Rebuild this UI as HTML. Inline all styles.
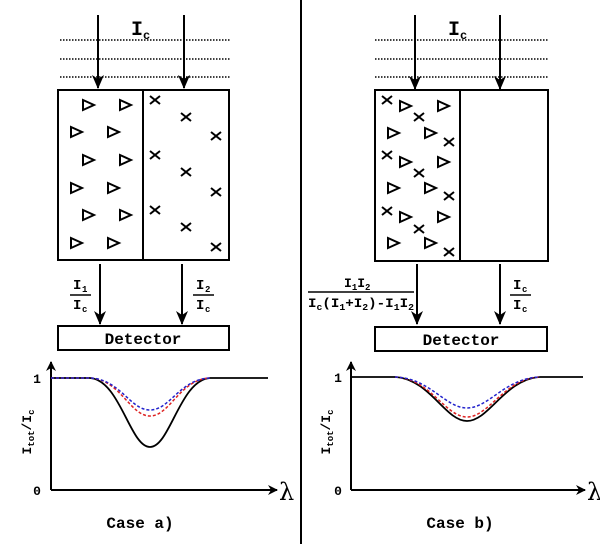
<!DOCTYPE html>
<html><head><style>body{margin:0;background:#fff}svg{display:block}</style></head><body>
<svg width="600" height="544" viewBox="0 0 600 544" xmlns="http://www.w3.org/2000/svg" font-family="Liberation Mono, monospace" font-weight="bold">
<defs>
<marker id="ah" markerWidth="10" markerHeight="10" refX="9" refY="5" orient="auto" markerUnits="userSpaceOnUse"><path d="M0,0 L10,5 L0,10 L3,5 z" fill="#000"/></marker>
<marker id="ah2" markerWidth="14" markerHeight="12" refX="13" refY="6" orient="auto" markerUnits="userSpaceOnUse"><path d="M0,0 L14,6 L0,12 L4,6 z" fill="#000"/></marker>
<g id="t"><path d="M-5,-5 L6,0 L-5,5 z" fill="none" stroke="#000" stroke-width="2"/></g>
<g id="x"><path d="M-5,-4 L5,4 M-5,4 L5,-4" stroke="#000" stroke-width="2"/></g>
</defs>
<line x1="301" y1="0" x2="301" y2="544" stroke="#000" stroke-width="2"/>
<!-- LEFT -->
<g stroke="#000" stroke-width="1.5" stroke-dasharray="1.5,1.5"><line x1="60" y1="40" x2="230" y2="40"/><line x1="60" y1="59" x2="230" y2="59"/><line x1="60" y1="77" x2="230" y2="77"/></g>
<text x="131" y="35" font-size="20">I</text><text x="143" y="39" font-size="12">c</text>
<g stroke="#000" stroke-width="2" marker-end="url(#ah2)"><line x1="98" y1="15" x2="98" y2="88"/><line x1="184" y1="15" x2="184" y2="88"/>
<line x1="100" y1="264" x2="100" y2="324"/><line x1="182" y1="264" x2="182" y2="324"/></g>
<rect x="58" y="90" width="171" height="170" fill="none" stroke="#000" stroke-width="2"/>
<line x1="143" y1="90" x2="143" y2="260" stroke="#000" stroke-width="2"/>
<use href="#t" x="88" y="105"/><use href="#t" x="125" y="105"/><use href="#t" x="76" y="132"/><use href="#t" x="113" y="132"/><use href="#t" x="88" y="160"/><use href="#t" x="125" y="160"/><use href="#t" x="76" y="188"/><use href="#t" x="113" y="188"/><use href="#t" x="88" y="215"/><use href="#t" x="125" y="215"/><use href="#t" x="76" y="243"/><use href="#t" x="113" y="243"/>
<use href="#x" x="155" y="100"/><use href="#x" x="186" y="117"/><use href="#x" x="216" y="136"/><use href="#x" x="155" y="155"/><use href="#x" x="186" y="172"/><use href="#x" x="216" y="192"/><use href="#x" x="155" y="210"/><use href="#x" x="186" y="227"/><use href="#x" x="216" y="247"/>
<g font-size="14"><text x="73" y="289">I</text><text x="82" y="292" font-size="9">1</text><line x1="70" y1="295" x2="91" y2="295" stroke="#000" stroke-width="1.5"/><text x="73" y="309">I</text><text x="82" y="312" font-size="9">c</text>
<text x="196" y="289">I</text><text x="205" y="292" font-size="9">2</text><line x1="193" y1="295" x2="214" y2="295" stroke="#000" stroke-width="1.5"/><text x="196" y="309">I</text><text x="205" y="312" font-size="9">c</text></g>
<rect x="58" y="326" width="171" height="24" fill="none" stroke="#000" stroke-width="2"/>
<text x="143" y="344" font-size="16" text-anchor="middle">Detector</text>
<g stroke="#000" stroke-width="2"><line x1="51" y1="490" x2="51" y2="362" marker-end="url(#ah)"/><line x1="51" y1="490" x2="277" y2="490" marker-end="url(#ah)"/></g>
<path d="M51,378 L90,378 C120,380 130,447 150,447 C170,447 180,380 210,378 L268,378" fill="none" stroke="#000" stroke-width="1.8"/>
<path d="M51,378 L90,378 C120,379 130,416 150,416 C170,416 180,379 210,378" fill="none" stroke="#d22" stroke-width="1.5" stroke-dasharray="3,2"/>
<path d="M51,378 L90,378 C120,379 130,410 150,410 C170,410 180,379 210,378" fill="none" stroke="#22c" stroke-width="1.5" stroke-dasharray="3,2"/>
<text x="37" y="383" font-size="13" text-anchor="middle">1</text><text x="37" y="495" font-size="13" text-anchor="middle">0</text>
<text transform="translate(31,432) rotate(-90)" font-size="13" text-anchor="middle">I<tspan font-size="9" dy="3">tot</tspan><tspan dy="-3">/I</tspan><tspan font-size="9" dy="3">c</tspan></text>
<text x="279" y="500" font-size="24" font-family="DejaVu Serif, serif" font-weight="normal">λ</text>
<text x="140" y="528" font-size="16" text-anchor="middle">Case a)</text>
<!-- RIGHT -->
<g stroke="#000" stroke-width="1.5" stroke-dasharray="1.5,1.5"><line x1="375" y1="40" x2="548" y2="40"/><line x1="375" y1="59" x2="548" y2="59"/><line x1="375" y1="77" x2="548" y2="77"/></g>
<text x="448" y="35" font-size="20">I</text><text x="460" y="39" font-size="12">c</text>
<g stroke="#000" stroke-width="2" marker-end="url(#ah2)"><line x1="415" y1="15" x2="415" y2="89"/><line x1="500" y1="15" x2="500" y2="89"/>
<line x1="417" y1="264" x2="417" y2="324"/><line x1="500" y1="264" x2="500" y2="324"/></g>
<rect x="375" y="90" width="173" height="171" fill="none" stroke="#000" stroke-width="2"/>
<line x1="460" y1="90" x2="460" y2="261" stroke="#000" stroke-width="2"/>
<use href="#t" x="405" y="106"/><use href="#t" x="443" y="106"/><use href="#t" x="393" y="133"/><use href="#t" x="430" y="133"/><use href="#t" x="405" y="162"/><use href="#t" x="443" y="162"/><use href="#t" x="393" y="188"/><use href="#t" x="430" y="188"/><use href="#t" x="405" y="217"/><use href="#t" x="443" y="217"/><use href="#t" x="393" y="243"/><use href="#t" x="430" y="243"/>
<use href="#x" x="387" y="100"/><use href="#x" x="419" y="117"/><use href="#x" x="449" y="142"/><use href="#x" x="387" y="155"/><use href="#x" x="419" y="173"/><use href="#x" x="449" y="196"/><use href="#x" x="387" y="211"/><use href="#x" x="419" y="229"/><use href="#x" x="449" y="252"/>
<g font-size="13"><text x="344" y="287">I<tspan font-size="9" dy="3">1</tspan><tspan dy="-3">I</tspan><tspan font-size="9" dy="3">2</tspan></text>
<line x1="308" y1="292" x2="414" y2="292" stroke="#000" stroke-width="1.5"/>
<text x="308" y="307" textLength="106" lengthAdjust="spacingAndGlyphs">I<tspan font-size="9" dy="3">c</tspan><tspan dy="-3">(I</tspan><tspan font-size="9" dy="3">1</tspan><tspan dy="-3">+I</tspan><tspan font-size="9" dy="3">2</tspan><tspan dy="-3">)-I</tspan><tspan font-size="9" dy="3">1</tspan><tspan dy="-3">I</tspan><tspan font-size="9" dy="3">2</tspan></text>
<text x="513" y="289" font-size="14">I</text><text x="522" y="292" font-size="9">c</text><line x1="510" y1="295" x2="531" y2="295" stroke="#000" stroke-width="1.5"/><text x="513" y="309" font-size="14">I</text><text x="522" y="312" font-size="9">c</text></g>
<rect x="375" y="327" width="172" height="24" fill="none" stroke="#000" stroke-width="2"/>
<text x="461" y="345" font-size="16" text-anchor="middle">Detector</text>
<g stroke="#000" stroke-width="2"><line x1="351" y1="490" x2="351" y2="362" marker-end="url(#ah)"/><line x1="351" y1="490" x2="585" y2="490" marker-end="url(#ah)"/></g>
<path d="M351,377 L395,377 C430,379 445,421 467,421 C489,421 505,379 540,377 L583,377" fill="none" stroke="#000" stroke-width="1.8"/>
<path d="M395,377 C430,378 445,417 467,417 C489,417 505,378 540,377" fill="none" stroke="#d22" stroke-width="1.5" stroke-dasharray="3,2"/>
<path d="M395,377 C430,378 445,408 467,408 C489,408 505,378 540,377" fill="none" stroke="#22c" stroke-width="1.5" stroke-dasharray="3,2"/>
<text x="338" y="382" font-size="13" text-anchor="middle">1</text><text x="338" y="495" font-size="13" text-anchor="middle">0</text>
<text transform="translate(330,432) rotate(-90)" font-size="13" text-anchor="middle">I<tspan font-size="9" dy="3">tot</tspan><tspan dy="-3">/I</tspan><tspan font-size="9" dy="3">c</tspan></text>
<text x="587" y="500" font-size="24" font-family="DejaVu Serif, serif" font-weight="normal">λ</text>
<text x="460" y="528" font-size="16" text-anchor="middle">Case b)</text>
</svg>
</body></html>
